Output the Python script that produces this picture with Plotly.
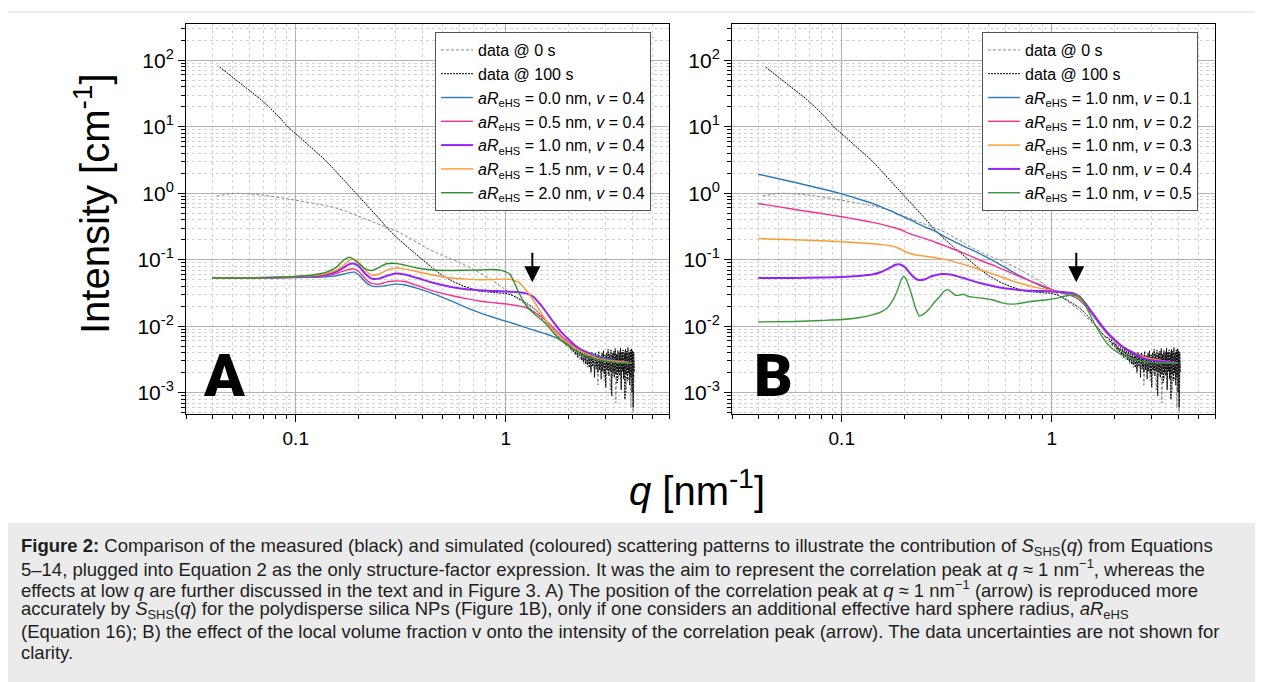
import math
import plotly.graph_objects as go

# The page body adds an 8 px margin, so the figure is laid out in window
# pixels shifted by 8 px.
OFF = 8
W, H = 1263 - OFF, 682 - OFF


def px(x):
    return (x - OFF) / W


def py(y):
    return 1 - (y - OFF) / H


# ---------------- data ----------------
q_model = [0.04, 0.06, 0.08, 0.1, 0.12, 0.14, 0.155, 0.17, 0.18, 0.19,
           0.2, 0.215, 0.23, 0.25, 0.27, 0.3, 0.33, 0.38, 0.45, 0.55,
           0.65, 0.75, 0.85, 0.95, 1.05, 1.15, 1.25, 1.35, 1.45, 1.55,
           1.7, 1.85, 2.0, 2.2, 2.5, 2.8, 3.2, 3.6, 4.0]

# Panel A: aR_eHS varied, v = 0.4
I_A_r00 = [0.053, 0.053, 0.0535, 0.054, 0.0545, 0.0555, 0.0575, 0.061, 0.064, 0.065,
           0.059, 0.046, 0.040, 0.0395, 0.041, 0.043, 0.042, 0.037, 0.031, 0.024,
           0.019, 0.016, 0.014, 0.0125, 0.0114, 0.0104, 0.0095, 0.0088, 0.0082, 0.0077,
           0.0069, 0.0061, 0.0054, 0.0047, 0.004, 0.0035, 0.0031, 0.0029, 0.0028]
I_A_r05 = [0.053, 0.053, 0.054, 0.055, 0.056, 0.058, 0.062, 0.068, 0.072, 0.073,
           0.066, 0.051, 0.044, 0.043, 0.046, 0.048, 0.047, 0.041, 0.034, 0.029,
           0.026, 0.024, 0.0228, 0.022, 0.0212, 0.0202, 0.019, 0.0168, 0.0145, 0.0123,
           0.0093, 0.007, 0.0058, 0.0047, 0.0038, 0.0033, 0.003, 0.0029, 0.0028]
I_A_r10 = [0.053, 0.053, 0.054, 0.055, 0.057, 0.06, 0.066, 0.077, 0.086, 0.087,
           0.079, 0.061, 0.052, 0.052, 0.057, 0.062, 0.06, 0.053, 0.045, 0.039,
           0.036, 0.0348, 0.034, 0.0335, 0.033, 0.0325, 0.0312, 0.028, 0.022, 0.0168,
           0.0112, 0.008, 0.0063, 0.0048, 0.0038, 0.0032, 0.003, 0.0029, 0.0028]
I_A_r15 = [0.053, 0.053, 0.054, 0.056, 0.058, 0.062, 0.069, 0.084, 0.098, 0.101,
           0.091, 0.069, 0.059, 0.061, 0.069, 0.075, 0.073, 0.066, 0.059, 0.053,
           0.051, 0.05, 0.0502, 0.051, 0.0508, 0.046, 0.035, 0.025, 0.0175, 0.0125,
           0.0085, 0.0066, 0.0055, 0.0045, 0.0037, 0.0032, 0.003, 0.0029, 0.0028]
I_A_r20 = [0.053, 0.053, 0.054, 0.056, 0.059, 0.065, 0.076, 0.1, 0.109, 0.1,
           0.087, 0.073, 0.069, 0.077, 0.087, 0.088, 0.083, 0.075, 0.07, 0.069,
           0.0695, 0.07, 0.0712, 0.069, 0.06, 0.033, 0.0205, 0.016, 0.0132, 0.011,
           0.0078, 0.006, 0.005, 0.0041, 0.0034, 0.0031, 0.0029, 0.0028, 0.0028]

# Panel B: aR_eHS = 1.0 nm, v varied
I_B_v01 = [1.93, 1.45, 1.17, 0.98, 0.82, 0.7, 0.62, 0.55, 0.5, 0.465,
           0.43, 0.39, 0.35, 0.31, 0.28, 0.235, 0.2, 0.16, 0.125, 0.09,
           0.066, 0.052, 0.043, 0.037, 0.033, 0.031, 0.0285, 0.025, 0.02, 0.0155,
           0.0105, 0.0076, 0.006, 0.0048, 0.0039, 0.0034, 0.0031, 0.0029, 0.0028]
I_B_v02 = [0.7, 0.57, 0.495, 0.443, 0.4, 0.365, 0.34, 0.315, 0.3, 0.285,
           0.265, 0.24, 0.225, 0.208, 0.19, 0.168, 0.15, 0.126, 0.1, 0.078,
           0.062, 0.051, 0.044, 0.038, 0.034, 0.0318, 0.0295, 0.026, 0.0205, 0.0158,
           0.0105, 0.0076, 0.006, 0.0048, 0.0039, 0.0034, 0.0031, 0.0029, 0.0028]
I_B_v03 = [0.208, 0.2, 0.193, 0.186, 0.18, 0.174, 0.169, 0.162, 0.155, 0.145,
           0.133, 0.122, 0.117, 0.113, 0.109, 0.103, 0.097, 0.085, 0.072, 0.058,
           0.048, 0.042, 0.038, 0.0355, 0.0335, 0.032, 0.030, 0.0265, 0.021, 0.016,
           0.0107, 0.0077, 0.006, 0.0048, 0.0039, 0.0034, 0.0031, 0.0029, 0.0028]
I_B_v04 = [0.053, 0.053, 0.054, 0.055, 0.057, 0.06, 0.066, 0.076, 0.084, 0.085,
           0.077, 0.059, 0.05, 0.051, 0.057, 0.061, 0.06, 0.053, 0.045, 0.039,
           0.036, 0.0345, 0.034, 0.0335, 0.033, 0.0325, 0.0315, 0.0285, 0.022, 0.0165,
           0.011, 0.0079, 0.0062, 0.0048, 0.0038, 0.0032, 0.003, 0.0029, 0.0028]
q_B_v05 = [0.04, 0.06, 0.08, 0.1, 0.12, 0.14, 0.155, 0.165, 0.175, 0.185,
           0.192, 0.198, 0.205, 0.215, 0.225, 0.235, 0.245, 0.26, 0.275, 0.29,
           0.305, 0.32, 0.335, 0.35, 0.365, 0.38, 0.4, 0.43, 0.47, 0.52,
           0.58, 0.64, 0.7, 0.78, 0.86, 0.95, 1.05, 1.15, 1.25, 1.32,
           1.4, 1.5, 1.6, 1.75, 1.9, 2.1, 2.4, 2.8, 3.3, 4.0]
I_B_v05 = [0.0116, 0.0118, 0.0122, 0.0126, 0.0134, 0.0148, 0.0166, 0.019, 0.0245, 0.036,
           0.05, 0.0565, 0.047, 0.03, 0.0185, 0.0142, 0.0152, 0.018, 0.0225, 0.027,
           0.033, 0.0355, 0.032, 0.029, 0.0295, 0.0302, 0.028, 0.0272, 0.0263, 0.025,
           0.0225, 0.0215, 0.022, 0.0233, 0.0242, 0.025, 0.0262, 0.0282, 0.0292, 0.029,
           0.025, 0.0165, 0.011, 0.0068, 0.0049, 0.0039, 0.0032, 0.0029, 0.0028, 0.0028]

# measured data @ 100 s
q_d100_low = [0.0434, 0.05, 0.06, 0.0674, 0.075, 0.0825, 0.0916, 0.1, 0.115, 0.13,
              0.1386, 0.15, 0.17, 0.1945, 0.22, 0.25, 0.27, 0.3, 0.34, 0.39,
              0.449, 0.5, 0.56, 0.63, 0.7, 0.752, 0.8, 0.85, 0.9, 0.95,
              1.0, 1.08, 1.16, 1.25, 1.345, 1.45, 1.55, 1.65, 1.75, 1.81]
I_d100_low = [79, 55.6, 35.5, 26.5, 19.5, 14.5, 10, 7.8, 5.3, 3.75,
              3.13, 2.4, 1.57, 1.0, 0.651, 0.413, 0.311, 0.222, 0.156, 0.107,
              0.0745, 0.058, 0.047, 0.04, 0.0365, 0.0336, 0.033, 0.0322, 0.0318, 0.0315,
              0.0313, 0.029, 0.0258, 0.0225, 0.0193, 0.0155, 0.0122, 0.0098, 0.008, 0.00684]
q_d100_high = [1.875, 1.9, 1.925, 1.95, 1.975, 2.0, 2.025, 2.05, 2.075, 2.1,
               2.125, 2.15, 2.175, 2.2, 2.225, 2.25, 2.275, 2.3, 2.325, 2.35,
               2.375, 2.4, 2.425, 2.45, 2.475, 2.5, 2.525, 2.55, 2.575, 2.6,
               2.625, 2.65, 2.675, 2.7, 2.725, 2.75, 2.775, 2.8, 2.825, 2.85,
               2.875, 2.9, 2.925, 2.95, 2.975, 3.0, 3.025, 3.05, 3.075, 3.1,
               3.125, 3.15, 3.175, 3.2, 3.225, 3.25, 3.275, 3.3, 3.325, 3.35,
               3.375, 3.4, 3.425, 3.45, 3.475, 3.5, 3.525, 3.55, 3.575, 3.6,
               3.625, 3.65, 3.675, 3.7, 3.725, 3.75, 3.775, 3.8, 3.825, 3.85,
               3.875, 3.9, 3.925, 3.95, 3.975, 4.0, 4.025, 4.05, 4.075, 4.1]
I_d100_high = [0.0066, 0.0058, 0.0063, 0.0052, 0.0057, 0.0049, 0.0055, 0.0044, 0.0051, 0.0041,
               0.0049, 0.0038, 0.0046, 0.0034, 0.0047, 0.0036, 0.0043, 0.0031, 0.0044, 0.0029,
               0.0041, 0.0027, 0.0042, 0.0026, 0.0040, 0.0024, 0.0039, 0.0021, 0.0041, 0.0025,
               0.0038, 0.0017, 0.0040, 0.0023, 0.0037, 0.0020, 0.0042, 0.0022, 0.0036, 0.0016,
               0.0039, 0.0021, 0.0043, 0.0019, 0.0037, 0.0012, 0.0040, 0.0022, 0.0045, 0.0018,
               0.0038, 0.0021, 0.0044, 0.0009, 0.0039, 0.0020, 0.0042, 0.0017, 0.0046, 0.0019,
               0.0038, 0.0014, 0.0043, 0.0020, 0.0040, 0.0018, 0.0047, 0.0011, 0.0041, 0.0021,
               0.0044, 0.0016, 0.0039, 0.0008, 0.0045, 0.0019, 0.0042, 0.0015, 0.0048, 0.0020,
               0.0040, 0.0013, 0.0044, 0.0017, 0.0046, 0.0010, 0.0043, 0.0006, 0.0041, 0.0020]

# measured data @ 0 s
q_d0_low = [0.042, 0.047, 0.052, 0.058, 0.065, 0.075, 0.085, 0.1, 0.12, 0.15,
            0.175, 0.2, 0.235, 0.27, 0.31, 0.36, 0.42, 0.5, 0.6, 0.7,
            0.8, 0.9, 0.97, 1.05, 1.15, 1.25, 1.35, 1.45, 1.55, 1.65,
            1.75, 1.85]
I_d0_low = [0.91, 0.97, 1.0, 0.99, 0.96, 0.91, 0.86, 0.785, 0.71, 0.62,
            0.53, 0.45, 0.37, 0.31, 0.26, 0.2, 0.15, 0.115, 0.092, 0.072,
            0.057, 0.045, 0.038, 0.032, 0.026, 0.021, 0.0175, 0.0142, 0.0113, 0.0092,
            0.0075, 0.0063]
q_d0_high = [1.9, 1.95, 2.0, 2.05, 2.1, 2.15, 2.2, 2.25, 2.3, 2.35,
             2.4, 2.45, 2.5, 2.55, 2.6, 2.65, 2.7, 2.75, 2.8, 2.85,
             2.9, 2.95, 3.0, 3.05, 3.1, 3.15, 3.2, 3.25, 3.3, 3.35,
             3.4, 3.45, 3.5, 3.55, 3.6, 3.65, 3.7, 3.75, 3.8, 3.85,
             3.9, 3.95, 4.0, 4.05, 4.1]
I_d0_high = [0.0057, 0.0051, 0.0050, 0.0043, 0.0044, 0.0036, 0.0040, 0.0031, 0.0038, 0.0027,
             0.0036, 0.0024, 0.0037, 0.0019, 0.0035, 0.0022, 0.0038, 0.0013, 0.0036, 0.0020,
             0.0040, 0.0015, 0.0037, 0.0019, 0.0041, 0.0011, 0.0036, 0.0017, 0.0042, 0.0007,
             0.0038, 0.0016, 0.0043, 0.0012, 0.0040, 0.0018, 0.0044, 0.0010, 0.0039, 0.0015,
             0.0042, 0.0006, 0.0040, 0.0005, 0.0030]

labels_A = ["<i>aR</i><sub>eHS</sub> = 0.0 nm, <i>v</i> = 0.4",
            "<i>aR</i><sub>eHS</sub> = 0.5 nm, <i>v</i> = 0.4",
            "<i>aR</i><sub>eHS</sub> = 1.0 nm, <i>v</i> = 0.4",
            "<i>aR</i><sub>eHS</sub> = 1.5 nm, <i>v</i> = 0.4",
            "<i>aR</i><sub>eHS</sub> = 2.0 nm, <i>v</i> = 0.4"]
labels_B = ["<i>aR</i><sub>eHS</sub> = 1.0 nm, <i>v</i> = 0.1",
            "<i>aR</i><sub>eHS</sub> = 1.0 nm, <i>v</i> = 0.2",
            "<i>aR</i><sub>eHS</sub> = 1.0 nm, <i>v</i> = 0.3",
            "<i>aR</i><sub>eHS</sub> = 1.0 nm, <i>v</i> = 0.4",
            "<i>aR</i><sub>eHS</sub> = 1.0 nm, <i>v</i> = 0.5"]
BLUE, PINK, PURPLE, ORANGE, GREEN = "#2b7bba", "#f5338f", "#9125f2", "#ff9933", "#2f8f2f"
colors_A = [BLUE, PINK, PURPLE, ORANGE, GREEN]
widths_A = [1.4, 1.4, 2.0, 1.4, 1.4]
colors_B = [BLUE, PINK, ORANGE, PURPLE, "#3a9a3a"]
widths_B = [1.4, 1.4, 1.4, 2.0, 1.4]

arrow_q = [1.34, 1.31]
arrow_I = [0.046, 0.046]

y_tickvals = [1e-3, 1e-2, 1e-1, 1e0, 1e1, 1e2]
y_ticktext = ["10<sup>-3</sup>", "10<sup>-2</sup>", "10<sup>-1</sup>",
              "10<sup>0</sup>", "10<sup>1</sup>", "10<sup>2</sup>"]
x_tickvals = [0.1, 1]
x_ticktext = ["0.1", "1"]

# ---------------- figure ----------------
fig = go.Figure()

panels = [
    ("x", "y", "legend",
     [(q_model, I_A_r00), (q_model, I_A_r05), (q_model, I_A_r10), (q_model, I_A_r15), (q_model, I_A_r20)],
     labels_A, colors_A, widths_A),
    ("x2", "y2", "legend2",
     [(q_model, I_B_v01), (q_model, I_B_v02), (q_model, I_B_v03), (q_model, I_B_v04), (q_B_v05, I_B_v05)],
     labels_B, colors_B, widths_B),
]

for xa, ya, leg, series, labels, cols, wds in panels:
    fig.add_trace(go.Scatter(
        x=q_d0_low + q_d0_high, y=I_d0_low + I_d0_high, mode="lines",
        name="data @ 0 s", line=dict(color="#8a8a8a", width=1, dash="3px,2px"),
        xaxis=xa, yaxis=ya, legend=leg))
    fig.add_trace(go.Scatter(
        x=q_d100_low + q_d100_high, y=I_d100_low + I_d100_high, mode="lines",
        name="data @ 100 s", line=dict(color="black", width=1, dash="2px,1px"),
        xaxis=xa, yaxis=ya, legend=leg))
    for (qq, ii), lab, col, wd in zip(series, labels, cols, wds):
        fig.add_trace(go.Scatter(
            x=qq, y=ii, mode="lines", name=lab,
            line=dict(color=col, width=wd, shape="spline", smoothing=0.6),
            xaxis=xa, yaxis=ya, legend=leg))

minor_x = [m * 10 ** e for e in (-2, -1, 0) for m in range(2, 10)]
minor_y = [m * 10 ** e for e in range(-4, 3) for m in range(2, 10)]

xcommon = dict(
    type="log", range=[math.log10(0.03), math.log10(6)],
    showline=True, linecolor="black", linewidth=1, mirror=True,
    ticks="outside", ticklen=7, tickwidth=1, tickcolor="black",
    tickvals=x_tickvals, ticktext=x_ticktext,
    tickfont=dict(family="Arial", size=19, color="black"),
    showgrid=True, gridcolor="#b3b3b3", gridwidth=1, zeroline=False,
    minor=dict(tickvals=minor_x, ticks="outside", ticklen=4, tickcolor="black",
               showgrid=True, gridcolor="#d2d2d2", griddash="dot", gridwidth=1),
)
ycommon = dict(
    type="log", range=[-3.32, 2.545],
    showline=True, linecolor="black", linewidth=1, mirror=True,
    ticks="outside", ticklen=7, tickwidth=1, tickcolor="black",
    tickvals=y_tickvals, ticktext=y_ticktext,
    tickfont=dict(family="Arial", size=21, color="black"),
    showgrid=True, gridcolor="#b3b3b3", gridwidth=1, zeroline=False,
    minor=dict(tickvals=minor_y, ticks="outside", ticklen=4, tickcolor="black",
               showgrid=True, gridcolor="#d2d2d2", griddash="dot", gridwidth=1),
)

ydom = [py(414), py(24)]
legend_style = dict(xanchor="left", yanchor="top",
                    bgcolor="white", bordercolor="#555555", borderwidth=1,
                    font=dict(family="Arial", size=16, color="black"),
                    tracegroupgap=0, itemwidth=32)
fig.update_layout(
    width=W, height=H, autosize=False,
    margin=dict(l=0, r=0, t=0, b=0, pad=0),
    paper_bgcolor="white", plot_bgcolor="white",
    font=dict(family="Arial", color="black"),
    xaxis=dict(domain=[px(186), px(669)], anchor="y", **xcommon),
    yaxis=dict(domain=ydom, anchor="x", **ycommon),
    xaxis2=dict(domain=[px(732), px(1215)], anchor="y2", **xcommon),
    yaxis2=dict(domain=ydom, anchor="x2", **ycommon),
    legend=dict(x=px(435), y=py(32), **legend_style),
    legend2=dict(x=px(982), y=py(32), **legend_style),
    showlegend=True,
)

# frame and caption background
fig.add_shape(type="rect", xref="paper", yref="paper",
              x0=px(7), x1=px(1275), y0=py(700), y1=py(12),
              line=dict(color="#dcdcdc", width=1), fillcolor="rgba(0,0,0,0)", layer="below")
fig.add_shape(type="rect", xref="paper", yref="paper",
              x0=px(7.5), x1=px(1275), y0=py(700), y1=py(523),
              line=dict(width=0), fillcolor="#ebebeb", layer="below")

# arrows marking the correlation peak
for i, (xa, ya) in enumerate([("x", "y"), ("x2", "y2")]):
    fig.add_annotation(x=math.log10(arrow_q[i]), y=math.log10(arrow_I[i]), xref=xa, yref=ya,
                       text="", showarrow=True, ax=0, ay=-31, axref="pixel", ayref="pixel",
                       arrowhead=2, arrowsize=1.6, arrowwidth=2, arrowcolor="black",
                       standoff=0)

# panel letters
for letter, xc in (("A", 224), ("B", 773)):
    fig.add_annotation(x=px(xc), y=py(375), xref="paper", yref="paper",
                       text=letter, showarrow=False, xanchor="center", yanchor="middle",
                       font=dict(family="Roboto", size=60, color="black", weight=900))

# axis titles
fig.add_annotation(x=px(92), y=py(204), xref="paper", yref="paper",
                   text="Intensity [cm<sup>-1</sup>]", textangle=-90, showarrow=False,
                   xanchor="center", yanchor="middle",
                   font=dict(family="Arial", size=40, color="black"))
fig.add_annotation(x=px(697), y=py(488), xref="paper", yref="paper",
                   text="<i>q</i> [nm<sup>-1</sup>]", showarrow=False,
                   xanchor="center", yanchor="middle",
                   font=dict(family="Arial", size=40, color="black"))

# caption
caption = [
    "<b>Figure 2:</b> Comparison of the measured (black) and simulated (coloured) scattering patterns to illustrate the contribution of <i>S</i><sub>SHS</sub>(<i>q</i>) from Equations",
    "5–14, plugged into Equation 2 as the only structure-factor expression. It was the aim to represent the correlation peak at <i>q</i> ≈ 1 nm<sup>−1</sup>, whereas the",
    "effects at low <i>q</i> are further discussed in the text and in Figure 3. A) The position of the correlation peak at <i>q</i> ≈ 1 nm<sup>−1</sup> (arrow) is reproduced more",
    "accurately by <i>S</i><sub>SHS</sub>(<i>q</i>) for the polydisperse silica NPs (Figure 1B), only if one considers an additional effective hard sphere radius, <i>aR</i><sub>eHS</sub>",
    "(Equation 16); B) the effect of the local volume fraction v onto the intensity of the correlation peak (arrow). The data uncertainties are not shown for",
    "clarity.",
]
for k, line in enumerate(caption):
    fig.add_annotation(x=px(19), y=py(547 + 21 * k), xref="paper", yref="paper",
                       text=line, showarrow=False, xanchor="left", yanchor="middle",
                       font=dict(family="Arial", size=18.5, color="#1e1e1e"))

fig.write_html("out.html")
